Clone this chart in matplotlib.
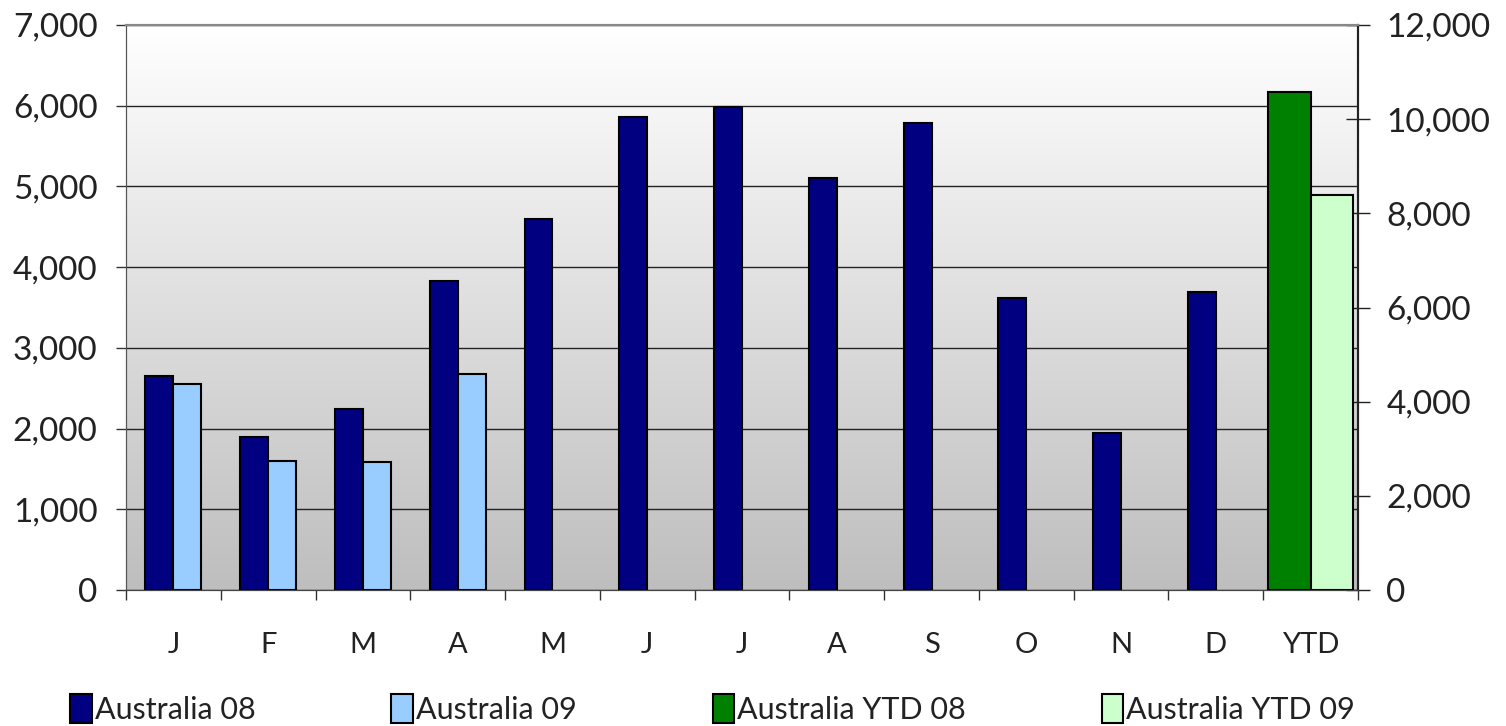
import matplotlib
matplotlib.use("Agg")
import matplotlib.pyplot as plt
import numpy as np
from matplotlib.ticker import FuncFormatter, FixedLocator
from matplotlib.colors import LinearSegmentedColormap

months = ["J", "F", "M", "A", "M", "J", "J", "A", "S", "O", "N", "D"]
categories = months + ["YTD"]
aus08 = [2650, 1900, 2240, 3830, 4600, 5860, 5990, 5100, 5780, 3620, 1950, 3690]
aus09 = [2550, 1600, 1580, 2680]
ytd08 = 10580
ytd09 = 8390
series_names = ["Australia 08", "Australia 09", "Australia YTD 08", "Australia YTD 09"]
colors = ["#000080", "#99CCFF", "#008000", "#CCFFCC"]

plt.rcParams['font.family'] = ['Lato', 'DejaVu Sans']
plt.rcParams['font.weight'] = 'normal'
TXT = '#222222'

fig = plt.figure(figsize=(15.06, 7.26), dpi=100)
ax = fig.add_axes([126/1506, 136/726, (1358-126)/1506, (590-25)/726])
ax2 = ax.twinx()

# gradient background
grad = np.linspace(0, 1, 256).reshape(-1, 1)
cmap = LinearSegmentedColormap.from_list("bg", ["#ffffff", "#bebebe"])
ax.imshow(grad, extent=(0, 1, 0, 1), transform=ax.transAxes, aspect='auto',
          cmap=cmap, zorder=0, origin='upper')
ax.patch.set_visible(False)

x = np.arange(len(categories))
w = 0.295
ax.bar(x[:12] - w/2, aus08, w, color=colors[0], edgecolor='black', linewidth=1.5, zorder=3, label=series_names[0])
ax.bar(x[:len(aus09)] + w/2, aus09, w, color=colors[1], edgecolor='black', linewidth=1.5, zorder=3, label=series_names[1])
w2 = 0.445
ax2.bar([x[12] - w2/2], [ytd08], w2, color=colors[2], edgecolor='black', linewidth=1.5, zorder=3, label=series_names[2])
ax2.bar([x[12] + w2/2], [ytd09], w2, color=colors[3], edgecolor='black', linewidth=1.5, zorder=3, label=series_names[3])

ax.set_xlim(-0.5, 12.5)
ax.set_ylim(0, 7000)
ax2.set_ylim(0, 12000)
ax.set_yticks(np.arange(0, 7001, 1000))
ax2.set_yticks(np.arange(0, 12001, 2000))
fmt = FuncFormatter(lambda v, p: f"{int(v):,}")
ax.yaxis.set_major_formatter(fmt)
ax2.yaxis.set_major_formatter(fmt)

ax.set_xticks(x)
ax.set_xticklabels(categories)
ax.xaxis.set_minor_locator(FixedLocator(np.arange(-0.5, 13, 1.0)))
ax.tick_params(axis='x', which='major', length=0, pad=30, labelsize=21, labelcolor=TXT)
ax.tick_params(axis='x', which='minor', length=7.5, width=1, color='#333333', direction='out')
ax.tick_params(axis='y', length=7.5, width=1, color='#333333', labelsize=24, pad=13, labelcolor=TXT)
ax2.tick_params(axis='y', length=17, width=1, direction='inout', color='#222222', labelsize=24, pad=12, labelcolor=TXT)

ax.grid(axis='y', color='#222222', linewidth=1)
ax.set_axisbelow(False)
for gl in ax.get_ygridlines():
    gl.set_zorder(1)

for a in (ax, ax2):
    a.spines['top'].set_color('#888888')
    a.spines['top'].set_linewidth(1.5)
    a.spines['left'].set_color('#555555')
    a.spines['bottom'].set_color('#444444')
    a.spines['right'].set_color('#222222')
    a.spines['right'].set_linewidth(1.5)
ax2.patch.set_visible(False)

h1, l1 = ax.get_legend_handles_labels()
h2, l2 = ax2.get_legend_handles_labels()
leg = fig.legend(h1 + h2, l1 + l2, loc='lower left', bbox_to_anchor=(58/1506, -0.014), ncol=4,
                 frameon=False, fontsize=22, handlelength=0.7, handleheight=1.1,
                 handletextpad=0.1, columnspacing=4.45, borderaxespad=0, labelcolor=TXT)

fig.savefig("out.png", dpi=100)
